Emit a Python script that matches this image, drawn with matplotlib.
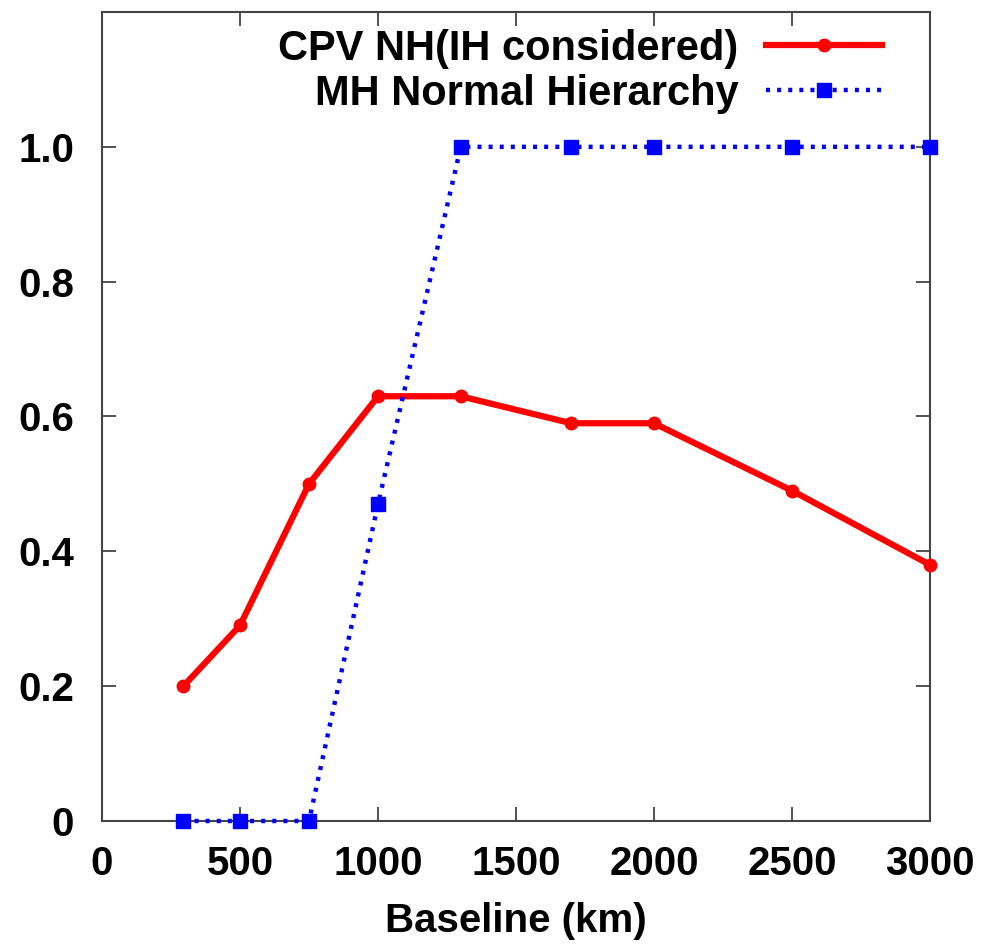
import matplotlib
matplotlib.use("Agg")
import matplotlib.pyplot as plt

# Baseline values (km) and the two curves
baseline = [295, 500, 750, 1000, 1300, 1700, 2000, 2500, 3000]
cpv_nh = [0.20, 0.29, 0.50, 0.63, 0.63, 0.59, 0.59, 0.49, 0.38]
mh_normal = [0.0, 0.0, 0.0, 0.47, 1.0, 1.0, 1.0, 1.0, 1.0]

xticks = [0, 500, 1000, 1500, 2000, 2500, 3000]
yticks = [0, 0.2, 0.4, 0.6, 0.8, 1.0]
ytick_labels = ["0", "0.2", "0.4", "0.6", "0.8", "1.0"]

plt.rcParams['font.family'] = ['Liberation Sans', 'DejaVu Sans']
plt.rcParams['font.weight'] = 'bold'

fig = plt.figure(figsize=(9.81, 9.5), dpi=100)
ax = fig.add_axes([102 / 981, 1 - 821 / 950, (930 - 102) / 981, (821 - 12) / 950])

ax.plot(baseline, cpv_nh, color='#ff0000', linewidth=4.5, marker='o', markersize=9,
        clip_on=False, zorder=3, label='CPV NH(IH considered)')
ax.plot(baseline, mh_normal, color='#0000ff', linewidth=3.2, linestyle=(0, (0.9, 1.6)),
        marker='s', markersize=10, clip_on=False, zorder=4, label='MH Normal Hierarchy')

ax.set_xlim(0, 3000)
ax.set_ylim(0, 1.2)
ax.set_xticks(xticks)
ax.set_yticks(yticks)
ax.set_yticklabels(ytick_labels)
ax.tick_params(direction='in', length=10, width=1.2, top=True, right=True,
               labelsize=29, color='#333333')
ax.tick_params(axis='y', pad=20)
ax.tick_params(axis='x', pad=17)
for s in ax.spines.values():
    s.set_linewidth(1.5)
    s.set_color('#444444')
    s.set_zorder(2)

ax.set_xlabel('Baseline (km)', fontsize=29, fontweight='bold', labelpad=14)

leg = ax.legend(loc='upper right', markerfirst=False, frameon=False, fontsize=30,
                handlelength=2.8, handletextpad=0.65, borderaxespad=0.0,
                labelspacing=0.12, bbox_to_anchor=(0.9625, 1.0))

fig.savefig('out.png', dpi=100)
